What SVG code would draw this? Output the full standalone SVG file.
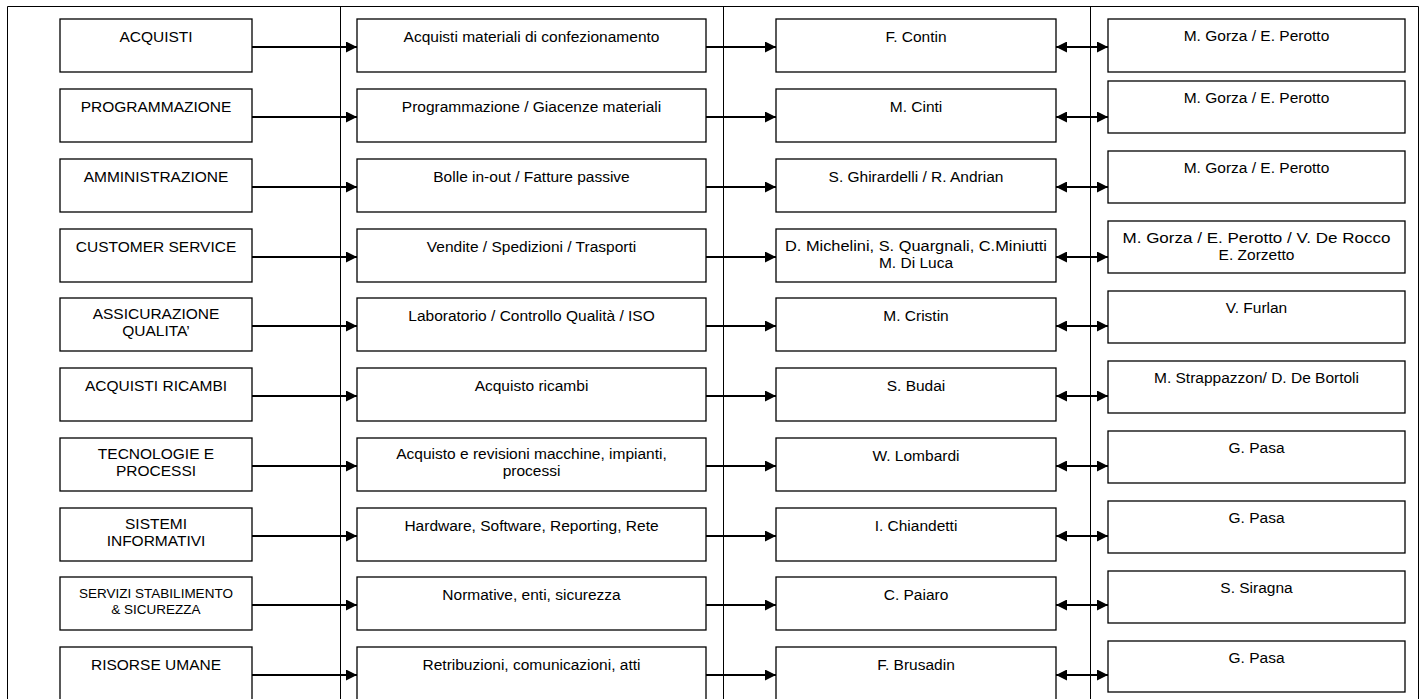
<svg xmlns="http://www.w3.org/2000/svg" width="1428" height="699" viewBox="0 0 1428 699">
<defs>
<style>
.b{fill:#fff;stroke:#000;stroke-width:1.3}
.f{fill:none;stroke:#000;stroke-width:1}
.c{stroke:#000;stroke-width:2;fill:none}
text{font-family:"Liberation Sans",Arial,sans-serif;font-size:15.5px;fill:#000;text-anchor:middle}
.s{font-size:13.5px}
</style>
<marker id="ah" viewBox="0 0 11 11" refX="11" refY="5.5" markerWidth="11" markerHeight="11" markerUnits="userSpaceOnUse" orient="auto-start-reverse"><path d="M0,0 L11,5.5 L0,11 Z" fill="#000"/></marker>
</defs>
<rect width="1428" height="699" fill="#fff"/>
<g id="frame">
<path class="f" d="M7.5,699 V6.5 H1418.5 V699 M340.5,6.5 V699 M723.5,6.5 V699 M1090.5,6.5 V699"/>
</g>
<g id="connectors">
<path class="c" d="M252,47 H357" marker-end="url(#ah)"/>
<path class="c" d="M706,47 H776" marker-end="url(#ah)"/>
<path class="c" d="M1056,47 H1108" marker-start="url(#ah)" marker-end="url(#ah)"/>
<path class="c" d="M252,117 H357" marker-end="url(#ah)"/>
<path class="c" d="M706,117 H776" marker-end="url(#ah)"/>
<path class="c" d="M1056,117 H1108" marker-start="url(#ah)" marker-end="url(#ah)"/>
<path class="c" d="M252,187 H357" marker-end="url(#ah)"/>
<path class="c" d="M706,187 H776" marker-end="url(#ah)"/>
<path class="c" d="M1056,187 H1108" marker-start="url(#ah)" marker-end="url(#ah)"/>
<path class="c" d="M252,257 H357" marker-end="url(#ah)"/>
<path class="c" d="M706,257 H776" marker-end="url(#ah)"/>
<path class="c" d="M1056,257 H1108" marker-start="url(#ah)" marker-end="url(#ah)"/>
<path class="c" d="M252,326 H357" marker-end="url(#ah)"/>
<path class="c" d="M706,326 H776" marker-end="url(#ah)"/>
<path class="c" d="M1056,326 H1108" marker-start="url(#ah)" marker-end="url(#ah)"/>
<path class="c" d="M252,396 H357" marker-end="url(#ah)"/>
<path class="c" d="M706,396 H776" marker-end="url(#ah)"/>
<path class="c" d="M1056,396 H1108" marker-start="url(#ah)" marker-end="url(#ah)"/>
<path class="c" d="M252,466 H357" marker-end="url(#ah)"/>
<path class="c" d="M706,466 H776" marker-end="url(#ah)"/>
<path class="c" d="M1056,466 H1108" marker-start="url(#ah)" marker-end="url(#ah)"/>
<path class="c" d="M252,536 H357" marker-end="url(#ah)"/>
<path class="c" d="M706,536 H776" marker-end="url(#ah)"/>
<path class="c" d="M1056,536 H1108" marker-start="url(#ah)" marker-end="url(#ah)"/>
<path class="c" d="M252,605 H357" marker-end="url(#ah)"/>
<path class="c" d="M706,605 H776" marker-end="url(#ah)"/>
<path class="c" d="M1056,605 H1108" marker-start="url(#ah)" marker-end="url(#ah)"/>
<path class="c" d="M252,675 H357" marker-end="url(#ah)"/>
<path class="c" d="M706,675 H776" marker-end="url(#ah)"/>
<path class="c" d="M1056,675 H1108" marker-start="url(#ah)" marker-end="url(#ah)"/>
</g>
<!-- Row 1 -->
<g id="r1c1"><rect class="b" x="60" y="19" width="192" height="53"/><text x="156" y="42">ACQUISTI</text></g>
<g id="r1c2"><rect class="b" x="357" y="19" width="349" height="53"/><text x="531.5" y="42">Acquisti materiali di confezionamento</text></g>
<g id="r1c3"><rect class="b" x="776" y="19" width="280" height="53"/><text x="916" y="42">F. Contin</text></g>
<g id="r1c4"><rect class="b" x="1108" y="19" width="297" height="53"/><text x="1256.5" y="41">M. Gorza / E. Perotto</text></g>
<!-- Row 2 -->
<g id="r2c1"><rect class="b" x="60" y="89" width="192" height="53"/><text x="156" y="112">PROGRAMMAZIONE</text></g>
<g id="r2c2"><rect class="b" x="357" y="89" width="349" height="53"/><text x="531.5" y="112">Programmazione / Giacenze materiali</text></g>
<g id="r2c3"><rect class="b" x="776" y="89" width="280" height="53"/><text x="916" y="112">M. Cinti</text></g>
<g id="r2c4"><rect class="b" x="1108" y="81" width="297" height="52"/><text x="1256.5" y="103">M. Gorza / E. Perotto</text></g>
<!-- Row 3 -->
<g id="r3c1"><rect class="b" x="60" y="159" width="192" height="53"/><text x="156" y="182">AMMINISTRAZIONE</text></g>
<g id="r3c2"><rect class="b" x="357" y="159" width="349" height="53"/><text x="531.5" y="182">Bolle in-out / Fatture passive</text></g>
<g id="r3c3"><rect class="b" x="776" y="159" width="280" height="53"/><text x="916" y="182">S. Ghirardelli / R. Andrian</text></g>
<g id="r3c4"><rect class="b" x="1108" y="151" width="297" height="52"/><text x="1256.5" y="173">M. Gorza / E. Perotto</text></g>
<!-- Row 4 -->
<g id="r4c1"><rect class="b" x="60" y="229" width="192" height="53"/><text x="156" y="252">CUSTOMER SERVICE</text></g>
<g id="r4c2"><rect class="b" x="357" y="229" width="349" height="53"/><text x="531.5" y="252">Vendite / Spedizioni / Trasporti</text></g>
<g id="r4c3"><rect class="b" x="776" y="229" width="280" height="53"/><text x="916" y="251" textLength="262" lengthAdjust="spacingAndGlyphs">D. Michelini, S. Quargnali, C.Miniutti</text><text x="916" y="268">M. Di Luca</text></g>
<g id="r4c4"><rect class="b" x="1108" y="221" width="297" height="52"/><text x="1256.5" y="243" textLength="268" lengthAdjust="spacingAndGlyphs">M. Gorza / E. Perotto / V. De Rocco</text><text x="1256.5" y="260">E. Zorzetto</text></g>
<!-- Row 5 -->
<g id="r5c1"><rect class="b" x="60" y="298" width="192" height="53"/><text x="156" y="319">ASSICURAZIONE</text><text x="156" y="336">QUALITA’</text></g>
<g id="r5c2"><rect class="b" x="357" y="298" width="349" height="53"/><text x="531.5" y="321">Laboratorio / Controllo Qualità / ISO</text></g>
<g id="r5c3"><rect class="b" x="776" y="298" width="280" height="53"/><text x="916" y="321">M. Cristin</text></g>
<g id="r5c4"><rect class="b" x="1108" y="291" width="297" height="52"/><text x="1256.5" y="313">V. Furlan</text></g>
<!-- Row 6 -->
<g id="r6c1"><rect class="b" x="60" y="368" width="192" height="53"/><text x="156" y="391">ACQUISTI RICAMBI</text></g>
<g id="r6c2"><rect class="b" x="357" y="368" width="349" height="53"/><text x="531.5" y="391">Acquisto ricambi</text></g>
<g id="r6c3"><rect class="b" x="776" y="368" width="280" height="53"/><text x="916" y="391">S. Budai</text></g>
<g id="r6c4"><rect class="b" x="1108" y="361" width="297" height="52"/><text x="1256.5" y="383">M. Strappazzon/ D. De Bortoli</text></g>
<!-- Row 7 -->
<g id="r7c1"><rect class="b" x="60" y="438" width="192" height="53"/><text x="156" y="459">TECNOLOGIE E</text><text x="156" y="476">PROCESSI</text></g>
<g id="r7c2"><rect class="b" x="357" y="438" width="349" height="53"/><text x="531.5" y="459">Acquisto e revisioni macchine, impianti,</text><text x="531.5" y="476">processi</text></g>
<g id="r7c3"><rect class="b" x="776" y="438" width="280" height="53"/><text x="916" y="461">W. Lombardi</text></g>
<g id="r7c4"><rect class="b" x="1108" y="431" width="297" height="52"/><text x="1256.5" y="453">G. Pasa</text></g>
<!-- Row 8 -->
<g id="r8c1"><rect class="b" x="60" y="508" width="192" height="53"/><text x="156" y="529">SISTEMI</text><text x="156" y="546">INFORMATIVI</text></g>
<g id="r8c2"><rect class="b" x="357" y="508" width="349" height="53"/><text x="531.5" y="531">Hardware, Software, Reporting, Rete</text></g>
<g id="r8c3"><rect class="b" x="776" y="508" width="280" height="53"/><text x="916" y="531">I. Chiandetti</text></g>
<g id="r8c4"><rect class="b" x="1108" y="501" width="297" height="52"/><text x="1256.5" y="523">G. Pasa</text></g>
<!-- Row 9 -->
<g id="r9c1"><rect class="b" x="60" y="577" width="192" height="53"/><text class="s" x="156" y="598">SERVIZI STABILIMENTO</text><text class="s" x="156" y="614">&amp; SICUREZZA</text></g>
<g id="r9c2"><rect class="b" x="357" y="577" width="349" height="53"/><text x="531.5" y="600">Normative, enti, sicurezza</text></g>
<g id="r9c3"><rect class="b" x="776" y="577" width="280" height="53"/><text x="916" y="600">C. Paiaro</text></g>
<g id="r9c4"><rect class="b" x="1108" y="571" width="297" height="52"/><text x="1256.5" y="593">S. Siragna</text></g>
<!-- Row 10 -->
<g id="r10c1"><rect class="b" x="60" y="647" width="192" height="60"/><text x="156" y="670">RISORSE UMANE</text></g>
<g id="r10c2"><rect class="b" x="357" y="647" width="349" height="60"/><text x="531.5" y="670">Retribuzioni, comunicazioni, atti</text></g>
<g id="r10c3"><rect class="b" x="776" y="647" width="280" height="60"/><text x="916" y="670">F. Brusadin</text></g>
<g id="r10c4"><rect class="b" x="1108" y="641" width="297" height="51"/><text x="1256.5" y="663">G. Pasa</text></g>
</svg>
